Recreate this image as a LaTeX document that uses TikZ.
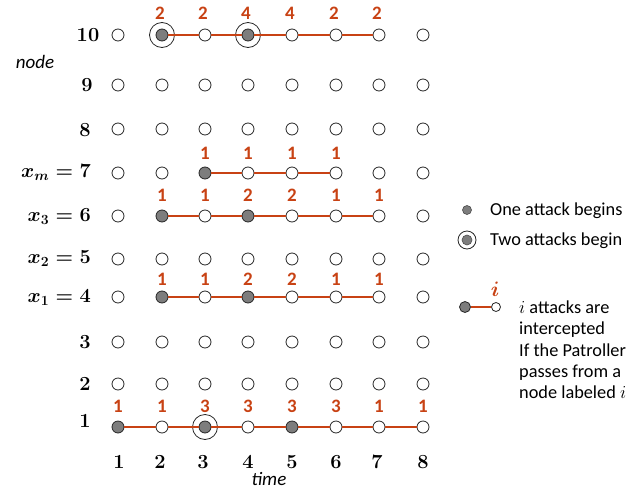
\documentclass[tikz,border=0pt]{standalone}
\usepackage{fix-cm}
\usepackage{fontspec}
\newfontfamily\carl{Carlito}
\usetikzlibrary{calc}
\definecolor{lred}{RGB}{200,66,20}
\definecolor{dotgray}{RGB}{125,125,125}
\tikzset{
  pt/.style={circle,draw=black!85,line width=0.8pt,fill=white,minimum size=12pt,inner sep=0pt},
  ptfill/.style={fill=dotgray},
  ring/.style={circle,draw=black!85,line width=0.8pt,minimum size=25pt,inner sep=0pt},
  rline/.style={draw=lred,line width=1.2pt},
  lab/.style={text=lred,font=\carl\bfseries\fontsize{19}{19}\selectfont,inner sep=0pt},
  rowlab/.style={font=\bfseries\fontsize{20}{20}\selectfont\boldmath,inner sep=0pt},
  axlab/.style={font=\carl\itshape\fontsize{19}{19}\selectfont,inner sep=0pt},
  legtext/.style={font=\carl\fontsize{18.3}{18.3}\selectfont,inner sep=0pt,anchor=base west},
  f10-2/.style={ptfill}, f10-4/.style={ptfill},
  f7-3/.style={ptfill},
  f6-2/.style={ptfill}, f6-4/.style={ptfill},
  f4-2/.style={ptfill}, f4-4/.style={ptfill},
  f1-1/.style={ptfill}, f1-3/.style={ptfill}, f1-5/.style={ptfill},
}
\begin{document}
\begin{tikzpicture}[x=1pt,y=-1pt]
\useasboundingbox (0,0) rectangle (626,490);
% grid of nodes
\foreach \r/\yy in {10/35,9/85,8/129,7/173,6/216,5/259,4/297,3/342,2/384,1/427}
  \foreach \c/\xx in {1/118,2/162,3/205,4/248,5/292,6/336,7/379,8/423}
    \node[pt,f\r-\c/.try] (n\r-\c) at (\xx,\yy) {};
% rings (two attacks begin)
\node[ring] (ring10-2) at (n10-2) {};
\node[ring] (ring10-4) at (n10-4) {};
\node[ring] (ring1-3) at (n1-3) {};
% red paths
\draw[rline] (n10-2) -- (n10-3) -- (n10-4) -- (n10-5) -- (n10-6) -- (n10-7);
\draw[rline] (n7-3) -- (n7-4) -- (n7-5) -- (n7-6);
\draw[rline] (n6-2) -- (n6-3) -- (n6-4) -- (n6-5) -- (n6-6) -- (n6-7);
\draw[rline] (n4-2) -- (n4-3) -- (n4-4) -- (n4-5) -- (n4-6) -- (n4-7);
\draw[rline] (n1-1) -- (n1-2) -- (n1-3) -- (n1-4) -- (n1-5) -- (n1-6) -- (n1-7) -- (n1-8);
% red labels
\foreach \c/\v in {2/2,3/2,4/4,5/4,6/2,7/2}
  \node[lab] (l10-\c) at ($(n10-\c)+(-2,-22)$) {\v};
\foreach \c/\v in {3/1,4/1,5/1,6/1}
  \node[lab] (l7-\c) at ($(n7-\c)+(0,-20)$) {\v};
\foreach \c/\v in {2/1,3/1,4/2,5/2,6/1,7/1}
  \node[lab] (l6-\c) at ($(n6-\c)+(0,-21)$) {\v};
\foreach \c/\v in {2/1,3/1,4/2,5/2,6/1,7/1}
  \node[lab] (l4-\c) at ($(n4-\c)+(0,-18)$) {\v};
\foreach \c/\v in {1/1,2/1,3/3,4/3,5/3,6/3,7/1,8/1}
  \node[lab] (l1-\c) at ($(n1-\c)+(0,-21)$) {\v};
% row labels
\node[rowlab] (r10) at (88,35) {10};
\node[rowlab] (r9) at (87,85) {9};
\node[rowlab] (r8) at (85,130) {8};
\node[rowlab,anchor=east] (r7) at (91,173) {$x_m = 7$};
\node[rowlab,anchor=east] (r6) at (91,217) {$x_3 = 6$};
\node[rowlab,anchor=east] (r5) at (91,259) {$x_2 = 5$};
\node[rowlab,anchor=east] (r4) at (91,298) {$x_1 = 4$};
\node[rowlab] (r3) at (85,342) {3};
\node[rowlab] (r2) at (85,384) {2};
\node[rowlab] (r1) at (85,421) {1};
% column labels
\foreach \c/\xx in {1/119,2/160,3/203,4/248,5/292,6/336,7/377,8/423}
  \node[rowlab] (c\c) at (\xx,462) {\c};
\node[axlab] (nodelab) at (35,62) {node};
\node[axlab] (timelab) at (269,479) {time};
% legend
\node[circle,fill=dotgray,draw=black!70,line width=0.6pt,minimum size=9pt,inner sep=0pt] (lg1) at (467,210) {};
\node[legtext] (lt1) at (490,215) {One attack begins};
\node[circle,fill=dotgray,draw=black!70,line width=0.6pt,minimum size=10pt,inner sep=0pt] (lg2) at (467,240) {};
\node[ring,minimum size=18pt] (lg2r) at (467,240) {};
\node[legtext] (lt2) at (490,245) {Two attacks begin};
\node[pt,ptfill,minimum size=11pt] (lg3a) at (465,307) {};
\node[pt,minimum size=9pt] (lg3b) at (496,307) {};
\draw[draw=lred,line width=2pt] (lg3a) -- (lg3b);
\node[text=lred,inner sep=0pt,font=\fontsize{21}{21}\selectfont\boldmath] (lgi) at (495,289) {$i$};
\node[legtext] (lt3) at (519,313) {$i$ attacks are};
\node[legtext] (lt4) at (519,334) {intercepted};
\node[legtext] (lt5) at (519,356) {If the Patroller};
\node[legtext] (lt6) at (519,377) {passes from a};
\node[legtext] (lt7) at (519,398) {node labeled $i$};
\end{tikzpicture}
\end{document}
